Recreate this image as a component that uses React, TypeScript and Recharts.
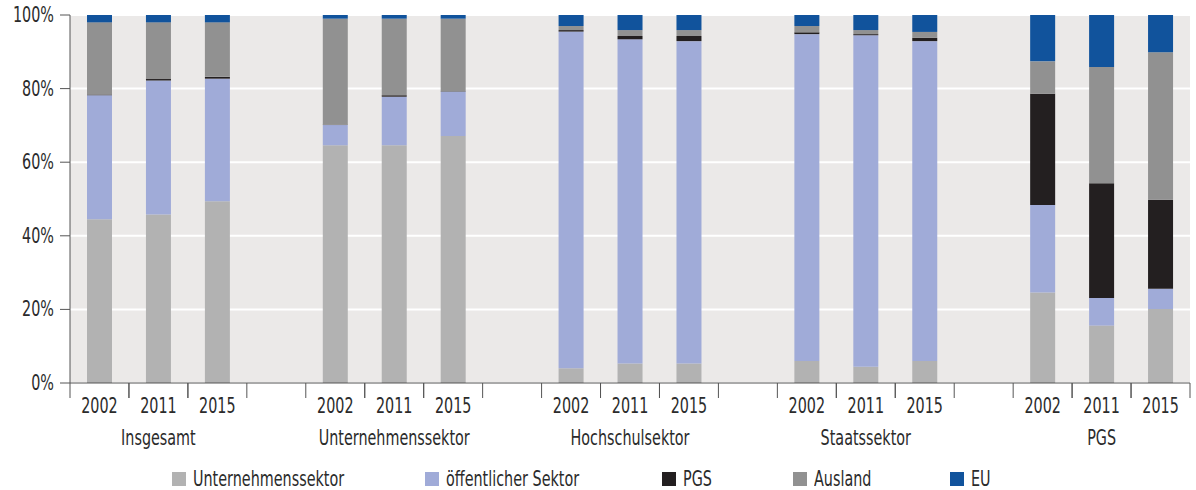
import React from "react";
import { BarChart, Bar, XAxis, YAxis, CartesianGrid, Legend } from "recharts";

const FONT = "'Liberation Sans Narrow', 'DejaVu Sans Condensed', 'Roboto', sans-serif";
const SQUEEZE = 0.76;
const FONT_SIZE = 21;

const GROUPS = ["Insgesamt", "Unternehmenssektor", "Hochschulsektor", "Staatssektor", "PGS"];
const YEARS = ["2002", "2011", "2015"];

// Anteile in % je Gruppe (Zeilen) und Jahr (Spalten)
const UNTERNEHMEN = [
  [44.5, 45.8, 49.4],
  [64.6, 64.6, 67.1],
  [4.0, 5.3, 5.3],
  [6.0, 4.4, 6.0],
  [24.6, 15.6, 20.1],
];
const OEFFENTLICH = [
  [33.7, 36.4, 33.3],
  [5.5, 13.2, 12.1],
  [91.5, 88.1, 87.6],
  [88.8, 90.1, 86.9],
  [23.8, 7.5, 5.5],
];
const PGS = [
  [0.2, 0.4, 0.5],
  [0.1, 0.4, 0.1],
  [0.4, 0.9, 1.4],
  [0.5, 0.3, 0.9],
  [30.2, 31.2, 24.2],
];
const AUSLAND = [
  [19.6, 15.4, 14.8],
  [28.8, 20.8, 19.7],
  [1.1, 1.6, 1.6],
  [1.7, 1.1, 1.6],
  [8.8, 31.6, 40.1],
];
const EU = [
  [2.0, 2.0, 2.0],
  [1.0, 1.0, 1.0],
  [3.0, 4.1, 4.1],
  [3.0, 4.1, 4.6],
  [12.6, 14.1, 10.1],
];

const SERIES = [
  { key: "u", name: "Unternehmenssektor", color: "#b2b2b2" },
  { key: "oe", name: "öffentlicher Sektor", color: "#a0abd8" },
  { key: "pgs", name: "PGS", color: "#231f20" },
  { key: "aus", name: "Ausland", color: "#919191" },
  { key: "eu", name: "EU", color: "#11539c" },
];

// legend item widths (layout only)
const LEGEND_LEFT = 172;
const LEGEND_WIDTHS = [253, 237, 131, 157, 80];

type Row = {
  key: string;
  year?: string;
  group?: string;
  u?: number;
  oe?: number;
  pgs?: number;
  aus?: number;
  eu?: number;
};

const ROWS: Row[] = [];
GROUPS.forEach((g, gi) => {
  YEARS.forEach((y, yi) => {
    ROWS.push({
      key: `${g}-${y}`,
      year: y,
      group: yi === 1 ? g : "",
      u: UNTERNEHMEN[gi][yi],
      oe: OEFFENTLICH[gi][yi],
      pgs: PGS[gi][yi],
      aus: AUSLAND[gi][yi],
      eu: EU[gi][yi],
    });
  });
  if (gi < GROUPS.length - 1) ROWS.push({ key: `gap${gi}` });
});

const W = 1196;
const H = 490;
const Y_AXIS_W = 70;
const MARGIN_RIGHT = 6;
const SLOT = (W - Y_AXIS_W - MARGIN_RIGHT) / ROWS.length;

function NarrowText({ x, y, anchor, children }: any) {
  return (
    <text
      transform={`translate(${x},${y}) scale(${SQUEEZE},1)`}
      textAnchor={anchor}
      fill="#2b2b2b"
      fontSize={FONT_SIZE}
      fontFamily={FONT}
    >
      {children}
    </text>
  );
}

function CategoryTick(props: any) {
  const { x, y, payload } = props;
  const row = ROWS[payload.index];
  if (!row || !row.year) return null;
  return (
    <g>
      <line x1={x - SLOT / 2} x2={x - SLOT / 2} y1={y} y2={y + 15} stroke="#555" />
      <line x1={x + SLOT / 2} x2={x + SLOT / 2} y1={y} y2={y + 15} stroke="#555" />
      <NarrowText x={x} y={y + 30} anchor="middle">
        {row.year}
      </NarrowText>
      {row.group ? (
        <NarrowText x={x} y={y + 62} anchor="middle">
          {row.group}
        </NarrowText>
      ) : null}
    </g>
  );
}

function PercentTick(props: any) {
  const { x, y, payload } = props;
  return (
    <NarrowText x={x} y={y + 7} anchor="end">
      {`${payload.value}%`}
    </NarrowText>
  );
}

function LegendContent() {
  return (
    <div
      style={{
        display: "flex",
        height: 32,
        alignItems: "center",
        paddingTop: 10,
        paddingLeft: LEGEND_LEFT,
        fontFamily: FONT,
        fontSize: FONT_SIZE,
        color: "#2b2b2b",
        boxSizing: "border-box",
      }}
    >
      {SERIES.map((s, i) => (
        <div key={s.key} style={{ display: "flex", alignItems: "center", width: LEGEND_WIDTHS[i], flex: "none" }}>
          <span style={{ width: 14, height: 14, background: s.color, marginRight: 7, display: "inline-block", flex: "none" }} />
          <span
            style={{
              display: "inline-block",
              whiteSpace: "nowrap",
              transform: `scaleX(${SQUEEZE})`,
              transformOrigin: "left center",
            }}
          >
            {s.name}
          </span>
        </div>
      ))}
    </div>
  );
}

export default function App() {
  return (
    <div style={{ position: "absolute", left: 0, top: 0, width: W, height: H, background: "#fff" }}>
      <BarChart
        width={W}
        height={H}
        data={ROWS}
        margin={{ top: 15, right: MARGIN_RIGHT, bottom: 0, left: 0 }}
        barSize={25}
      >
        <CartesianGrid vertical={false} stroke="#ffffff" strokeWidth={2} fill="#ebe9e8" />
        <XAxis
          dataKey="key"
          interval={0}
          height={75}
          tickLine={false}
          tickSize={0}
          tickMargin={0}
          axisLine={{ stroke: "#555" }}
          tick={<CategoryTick />}
        />
        <YAxis
          width={Y_AXIS_W}
          domain={[0, 100]}
          ticks={[0, 20, 40, 60, 80, 100]}
          tickSize={10}
          tickMargin={6}
          axisLine={{ stroke: "#555" }}
          tickLine={{ stroke: "#555" }}
          tick={<PercentTick />}
          allowDataOverflow
        />
        <Legend verticalAlign="bottom" height={32} content={<LegendContent />} />
        {SERIES.map((s) => (
          <Bar key={s.key} dataKey={s.key} name={s.name} stackId="a" fill={s.color} isAnimationActive={false} />
        ))}
      </BarChart>
    </div>
  );
}
